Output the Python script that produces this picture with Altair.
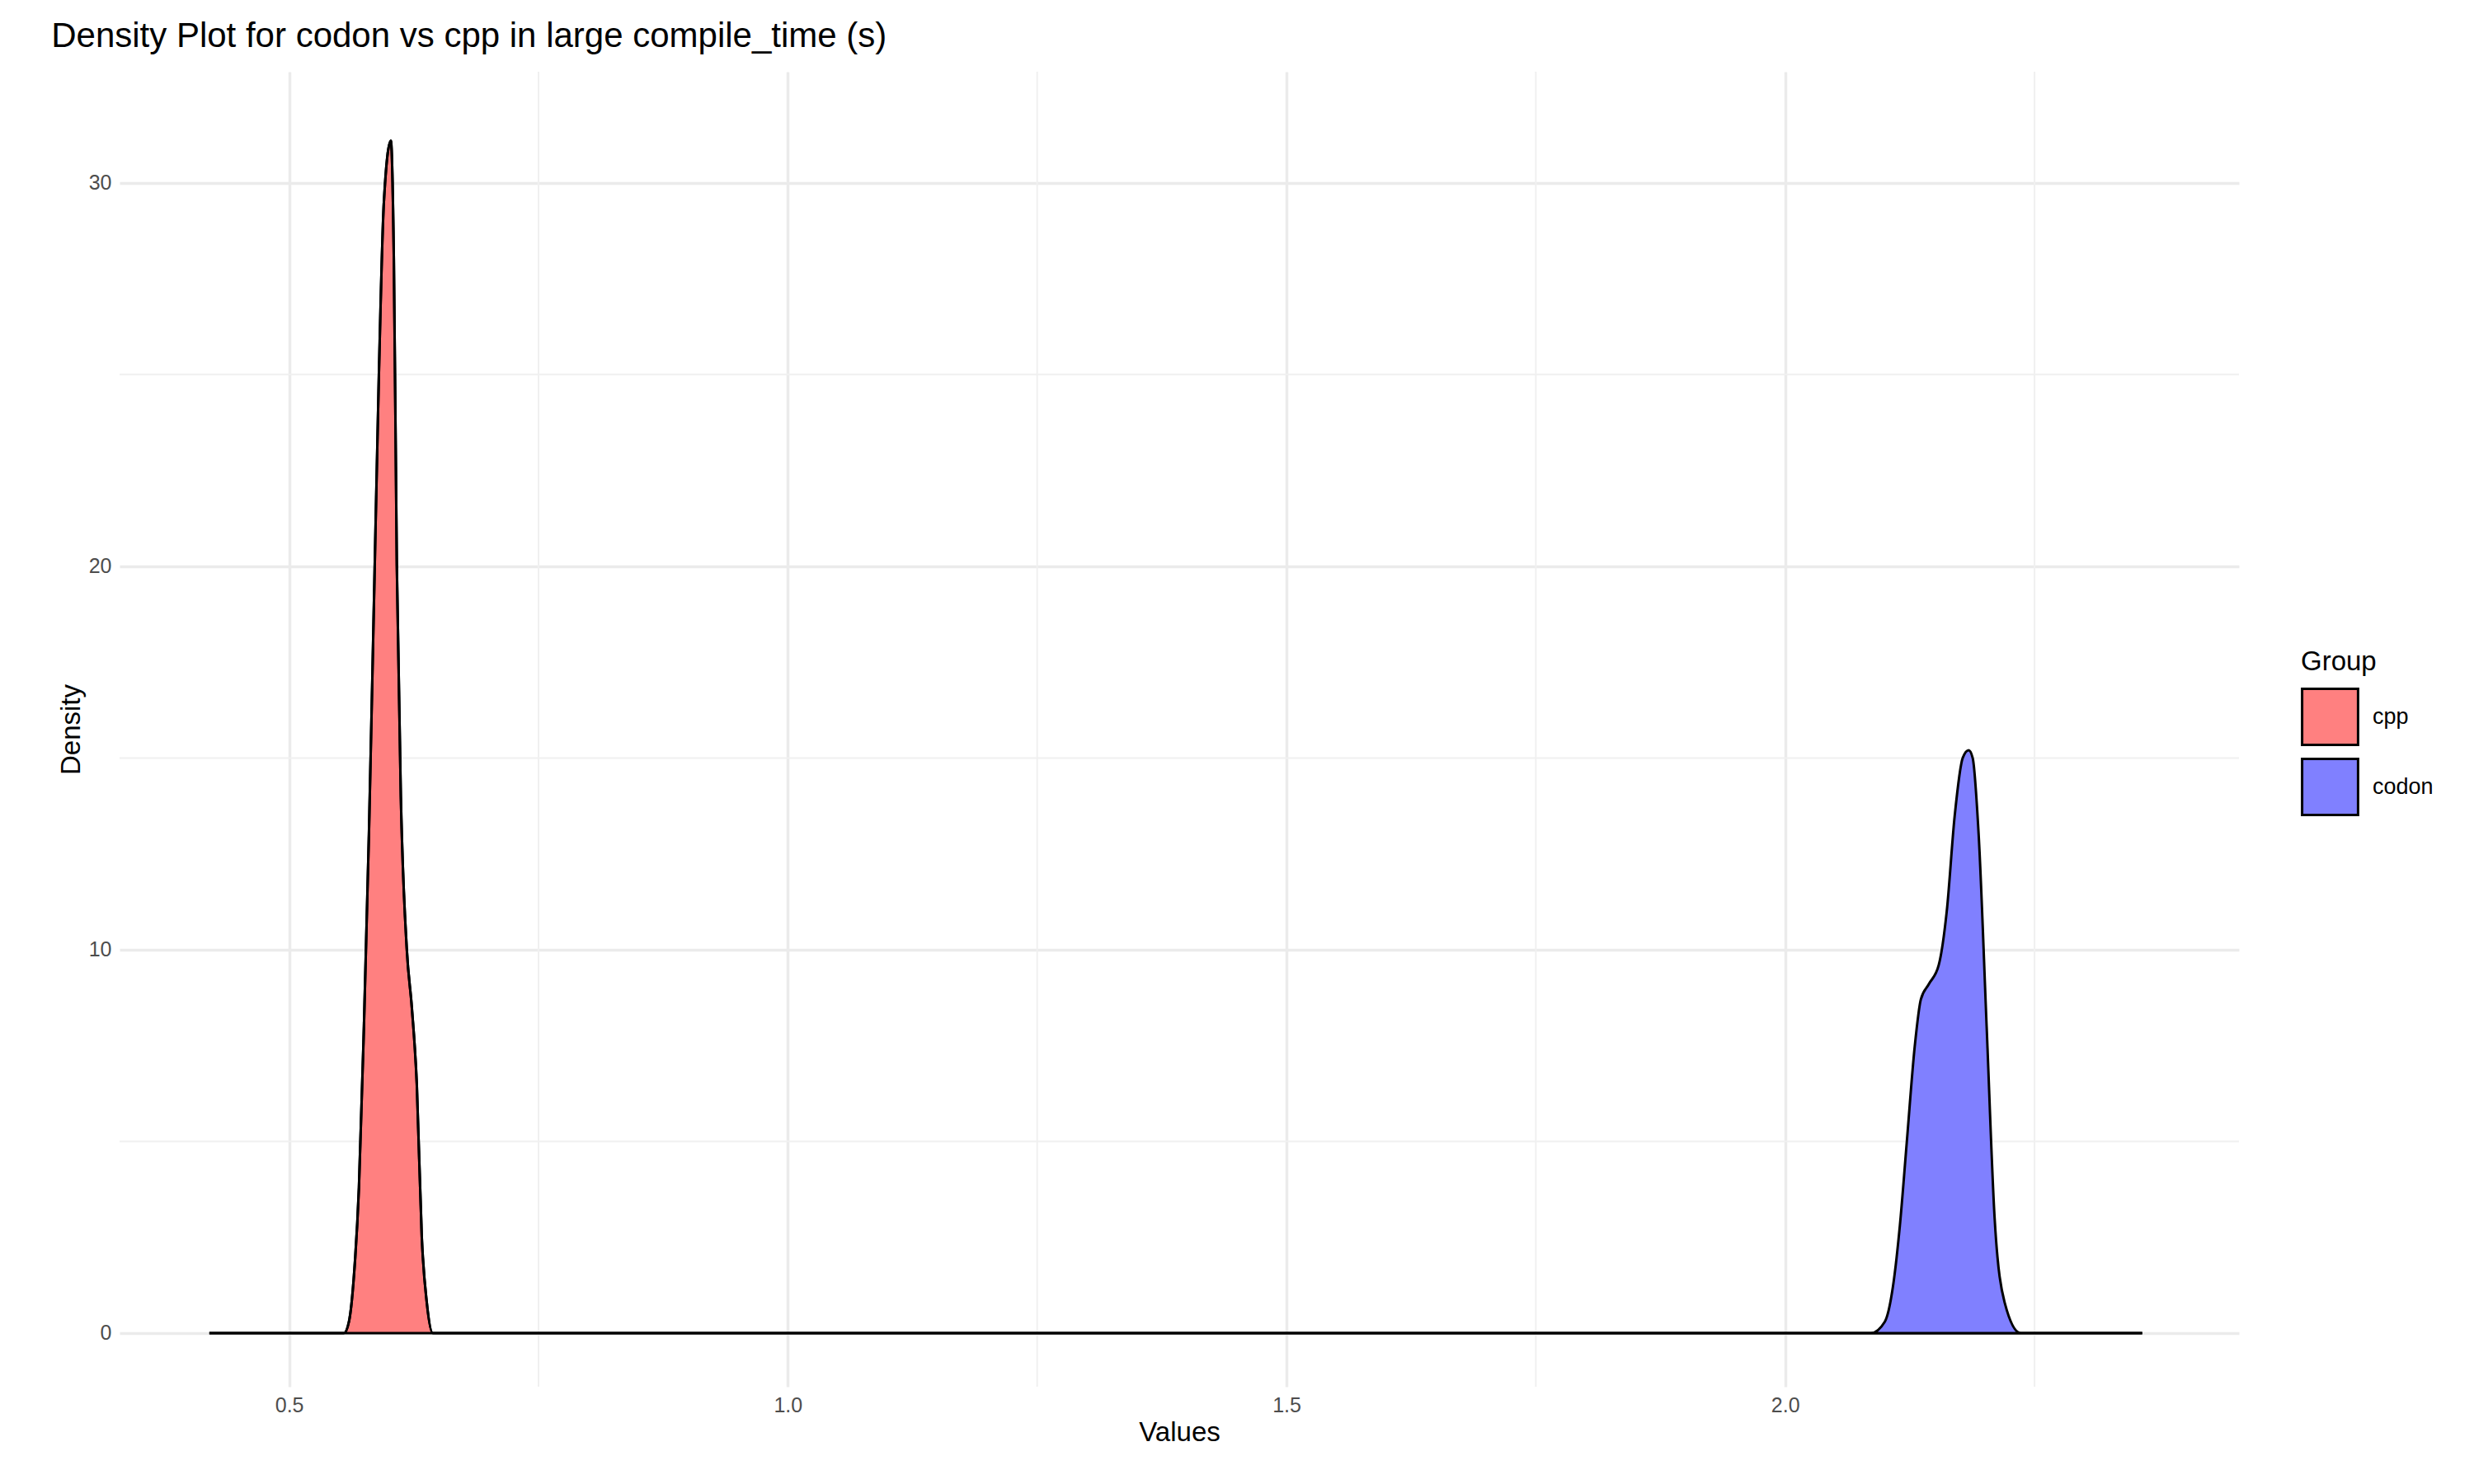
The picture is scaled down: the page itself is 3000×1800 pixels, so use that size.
import altair as alt
import pandas as pd

cpp_x = [0.42, 0.555, 0.56, 0.565, 0.57, 0.575, 0.58, 0.585, 0.59, 0.595, 0.602, 0.605, 0.608, 0.612, 0.618, 0.623, 0.628, 0.633, 0.638, 0.644, 2.358]
cpp_y = [0, 0, 0.3, 1.5, 3.8, 8, 13, 19, 25, 29.5, 31.1, 28, 20, 14, 10, 8.5, 6.5, 2.5, 0.8, 0, 0]
codon_x = [0.42, 2.086, 2.10, 2.108, 2.115, 2.122, 2.130, 2.136, 2.144, 2.154, 2.162, 2.170, 2.178, 2.184, 2.188, 2.194, 2.202, 2.210, 2.220, 2.236, 2.358]
codon_y = [0, 0, 0.3, 1.2, 2.8, 5, 7.5, 8.7, 9.1, 9.6, 11, 13.5, 15, 15.2, 15, 13, 8, 3, 0.8, 0, 0]

df = pd.concat([
    pd.DataFrame({'x': cpp_x, 'y': cpp_y, 'Group': 'cpp'}),
    pd.DataFrame({'x': codon_x, 'y': codon_y, 'Group': 'codon'}),
])
minor_x = pd.DataFrame({'v': [0.75, 1.25, 1.75, 2.25]})
minor_y = pd.DataFrame({'v': [5, 15, 25]})

xs = alt.Scale(domain=[0.33, 2.455], nice=False, zero=False)
ys = alt.Scale(domain=[-1.4, 32.9], nice=False, zero=False)

gx = alt.Chart(minor_x).mark_rule(color='#F0F0F0', strokeWidth=2).encode(x=alt.X('v:Q', scale=xs))
gy = alt.Chart(minor_y).mark_rule(color='#F0F0F0', strokeWidth=2).encode(y=alt.Y('v:Q', scale=ys))

areas = alt.Chart(df).mark_area(stroke='black', strokeWidth=3, opacity=1, interpolate='monotone').encode(
    x=alt.X('x:Q', scale=xs, title='Values',
            axis=alt.Axis(values=[0.5, 1.0, 1.5, 2.0], format='.1f', gridColor='#EBEBEB', gridWidth=3.5)),
    y=alt.Y('y:Q', scale=ys, title='Density',
            axis=alt.Axis(values=[0, 10, 20, 30], gridColor='#EBEBEB', gridWidth=3.5)),
    color=alt.Color('Group:N', scale=alt.Scale(domain=['cpp', 'codon'], range=['#FF8080', '#8080FF']),
                    legend=alt.Legend(orient='none', legendX=2645, legendY=700, symbolType='square',
                                      symbolSize=4600, symbolStrokeColor='black', symbolStrokeWidth=3,
                                      symbolOpacity=1, titleFontSize=33, labelFontSize=27,
                                      titleFontWeight='normal', titlePadding=14, rowPadding=4,
                                      labelOffset=16)),
    detail='Group:N',
)

chart = alt.layer(gx, gy, areas).properties(
    width=2570, height=1595,
    autosize='none',
    padding={'left': 137, 'top': 79, 'right': 277, 'bottom': 110},
    title=alt.Title('Density Plot for codon vs cpp in large compile_time (s)', anchor='start',
                    fontSize=42, fontWeight='normal', offset=20, dx=-8),
).configure(font='Liberation Sans').configure_view(stroke=None).configure_axis(
    domain=False, ticks=False, labelFontSize=25, labelColor='#4D4D4D',
    titleFontSize=33, titleFontWeight='normal', labelPadding=10,
)

chart.save("out.html", embed_options={"renderer": "svg", "actions": False})
